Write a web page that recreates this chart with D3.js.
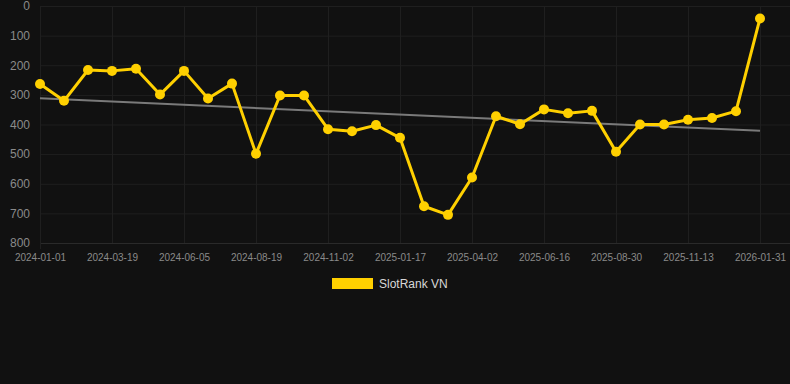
<!DOCTYPE html>
<html lang="en">
<head>
    <meta charset="utf-8">
    <title>SlotRank VN</title>
    <script type="text/javascript" src="https://d3js.org/d3.v7.min.js"></script>
    <style>
        body {
            margin: 0;
            background-color: #111111;
        }

        .tick text {
            font-family: "Liberation Sans", Arial, sans-serif;
            fill: #8a8a8a;
        }

        .grid line {
            stroke: #1f1f1f;
            stroke-width: 1;
        }

        .legendtext {
            font-family: "Liberation Sans", Arial, sans-serif;
            font-size: 12px;
            fill: #d8d8d8;
        }
    </style>
</head>

<body>
<div id="container"></div>
<script type="text/javascript">
    const w = 790;
    const h = 384;

    // data
    const dates = [
        "2024-01-01", "2024-01-27", "2024-02-22", "2024-03-19", "2024-04-14", "2024-05-10",
        "2024-06-05", "2024-06-30", "2024-07-25", "2024-08-19", "2024-09-13", "2024-10-08",
        "2024-11-02", "2024-11-27", "2024-12-23", "2025-01-17", "2025-02-11", "2025-03-08",
        "2025-04-02", "2025-04-27", "2025-05-22", "2025-06-16", "2025-07-11", "2025-08-05",
        "2025-08-30", "2025-09-24", "2025-10-19", "2025-11-13", "2025-12-09", "2026-01-05",
        "2026-01-31"
    ];
    const ranks = [
        263, 320, 216, 219, 212, 299, 219, 312, 262, 499, 302,
        302, 416, 423, 402, 445, 676, 705, 579, 372, 399,
        349, 362, 354, 492, 400, 400, 384, 378, 355, 42
    ];
    const yTicks = [0, 100, 200, 300, 400, 500, 600, 700, 800];
    const seriesName = "SlotRank VN";

    const svg = d3.select("div#container").append("svg")
        .attr("width", w)
        .attr("height", h)
        .style("display", "block")
        .style("background-color", "#111111");

    const x = d3.scalePoint().domain(dates).range([40, 760]);
    const y = d3.scaleLinear().domain([0, 800]).range([6, 243]);
    const shownDates = dates.filter(function (d, i) {
        return i % 3 === 0;
    });

    // grid lines
    svg.append("g")
        .attr("class", "grid")
        .selectAll("line.h")
        .data(yTicks)
        .enter()
        .append("line")
        .attr("x1", 40)
        .attr("x2", w)
        .attr("y1", function (d) { return y(d) + 0.5; })
        .attr("y2", function (d) { return y(d) + 0.5; })
        .style("stroke", function (d) { return d === 800 ? "#2a2a2a" : "#1f1f1f"; });

    svg.append("g")
        .attr("class", "grid")
        .selectAll("line.v")
        .data(shownDates)
        .enter()
        .append("line")
        .attr("x1", function (d) { return x(d) + 0.5; })
        .attr("x2", function (d) { return x(d) + 0.5; })
        .attr("y1", y(0))
        .attr("y2", function (d, i) { return i === 0 ? y(800) + 6 : y(800); });

    // axes
    const xAxis = svg.append("g")
        .attr("transform", "translate(0," + y(800) + ")")
        .call(d3.axisBottom(x).tickValues(shownDates).tickSize(0).tickPadding(11));
    xAxis.select(".domain").remove();
    xAxis.selectAll("text").style("font-size", "10px");

    const yAxis = svg.append("g")
        .attr("transform", "translate(30,0)")
        .call(d3.axisLeft(y).tickValues(yTicks).tickSize(0).tickPadding(0));
    yAxis.select(".domain").remove();
    yAxis.selectAll("text").style("font-size", "12px");

    // trend line (least squares on index)
    const n = ranks.length;
    const mx = d3.mean(ranks, function (d, i) { return i; });
    const my = d3.mean(ranks);
    const slope = d3.sum(ranks, function (d, i) { return (i - mx) * (d - my); }) /
        d3.sum(ranks, function (d, i) { return (i - mx) * (i - mx); });
    const trend = [0, n - 1].map(function (i) {
        return [dates[i], my + slope * (i - mx)];
    });

    svg.append("path")
        .datum(trend)
        .attr("fill", "none")
        .attr("stroke", "#7a7a7a")
        .attr("stroke-width", 2)
        .attr("d", d3.line()
            .x(function (d) { return x(d[0]); })
            .y(function (d) { return y(d[1]); }));

    // series line and points
    const series = dates.map(function (d, i) {
        return [d, ranks[i]];
    });

    svg.append("path")
        .datum(series)
        .attr("fill", "none")
        .attr("stroke", "#ffd000")
        .attr("stroke-width", 3)
        .attr("stroke-linejoin", "round")
        .attr("d", d3.line()
            .x(function (d) { return x(d[0]); })
            .y(function (d) { return y(d[1]); }));

    svg.append("g")
        .selectAll("circle")
        .data(series)
        .enter()
        .append("circle")
        .attr("cx", function (d) { return x(d[0]); })
        .attr("cy", function (d) { return y(d[1]); })
        .attr("r", 5)
        .attr("fill", "#ffd000");

    // legend
    const legend = svg.append("g").attr("transform", "translate(332,278)");
    legend.append("rect")
        .attr("width", 41)
        .attr("height", 11)
        .attr("fill", "#ffd000");
    legend.append("text")
        .attr("class", "legendtext")
        .attr("x", 47)
        .attr("y", 10)
        .text(seriesName);
</script>
</body>
</html>
